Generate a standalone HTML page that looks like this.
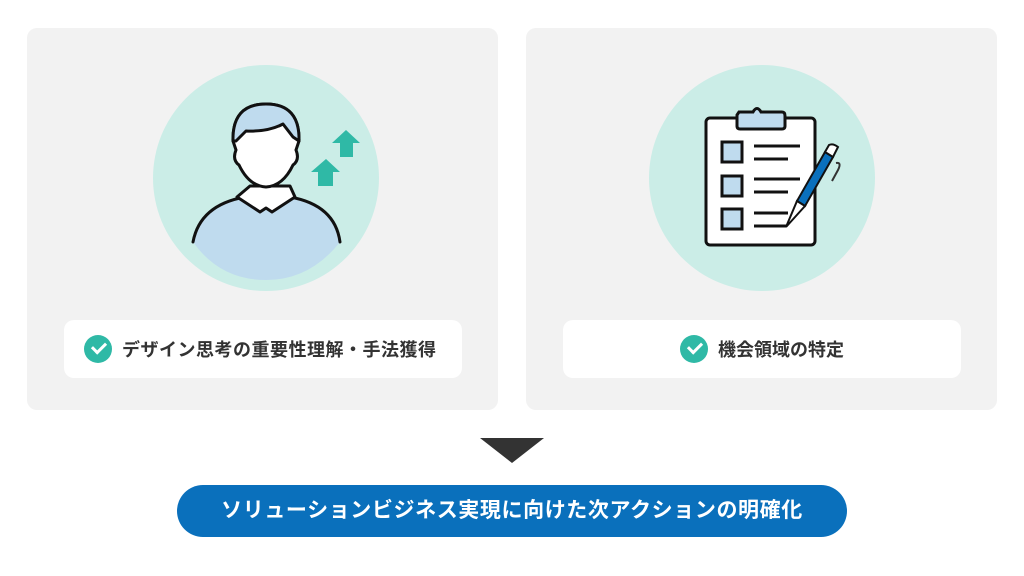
<!DOCTYPE html>
<html><head><meta charset="utf-8"><style>
body{margin:0;width:1024px;height:576px;background:#fff;position:relative;overflow:hidden;font-family:"Liberation Sans","Noto Sans CJK JP",sans-serif}
.panel{position:absolute;top:28px;width:471px;height:382px;background:#f2f2f2;border-radius:10px}
.circ{position:absolute;top:65px;width:226px;height:226px;border-radius:50%;background:#cbede7}
.lab{position:absolute;top:320px;width:398px;height:58px;background:#fff;border-radius:10px;display:flex;align-items:center;font-weight:bold;font-size:18px;color:#333}
.chk{width:28px;height:28px;border-radius:50%;background:#2fb9a6;margin-right:10px;position:relative;flex:none}
.chk:after{content:"";position:absolute;left:8px;top:7px;width:11px;height:6px;border-left:3px solid #fff;border-bottom:3px solid #fff;transform:rotate(-45deg)}
</style></head><body>
<div class="panel" style="left:27px"></div>
<div class="panel" style="left:526px"></div>
<div class="circ" style="left:153px"></div>
<div class="circ" style="left:649px"></div>
<svg style="position:absolute;left:0;top:0" width="1024" height="576">
<defs><clipPath id="c1"><circle cx="266" cy="178" r="113"/></clipPath></defs>
<g clip-path="url(#c1)">
<path d="M193 242 Q200 205 245 197 L290 197 Q335 205 340 242 Q310 280 266 280 Q220 280 193 242Z" fill="#bfdbee"/>
</g>
<path d="M193 242 Q200 205 245 197 M290 197 Q335 205 340 242" fill="none" stroke="#111" stroke-width="3" stroke-linecap="round"/>
<path d="M250 186 L290 186 L295 197 L272 212 L266 208 L260 212 L237 197Z" fill="#fff" stroke="#111" stroke-width="3" stroke-linejoin="round"/>
<path d="M233 141 Q232 104 266 104 Q300 104 299 141 L296 150 Q300 160 293 165 Q283 186 266 187 Q249 186 239 165 Q232 160 236 150Z" fill="#fff" stroke="#111" stroke-width="3"/>
<path d="M233 141 Q232 104 266 104 Q300 104 299 141 L293 137 L283 124 Q268 132 246 131 L236 141Z" fill="#bfdbee" stroke="#111" stroke-width="3" stroke-linejoin="round"/>
<path d="M346 130 L360 143 L353 143 L353 157 L340 157 L340 143 L332 143Z" fill="#2fb9a6"/>
<path d="M326 159 L340 172 L333 172 L333 186 L318 186 L318 172 L311 172Z" fill="#2fb9a6"/>
<rect x="706" y="118" width="109" height="127" rx="4" fill="#fff" stroke="#111" stroke-width="3"/>
<path d="M739 112 L753 112 Q757 105 761 112 L782 112 Q785 112 785 116 L785 126 Q785 129 782 129 L740 129 Q737 129 737 126 L737 115Z" fill="#bfdbee" stroke="#111" stroke-width="3"/>
<g fill="#bfdbee" stroke="#111" stroke-width="3">
<rect x="722" y="142" width="20" height="20"/><rect x="722" y="176" width="20" height="20"/><rect x="722" y="209" width="20" height="20"/></g>
<g stroke="#111" stroke-width="3"><path d="M754 146H800M754 159H788M754 179H800M754 192H788M754 213H788M754 226H786"/></g>
<path d="M833 157 L805 206 L797 201 L825 152Z" fill="#0a70bc" stroke="#111" stroke-width="2"/>
<path d="M825 152 L829 145 Q833 143 838 147 L833 157Z" fill="#fff" stroke="#111" stroke-width="2"/>
<path d="M836 163 Q842 162 838 170 L832 181" fill="none" stroke="#333" stroke-width="2"/>
<path d="M797 201 L805 206 L786 227Z" fill="#fff" stroke="#111" stroke-width="2"/>
<path d="M480 438 L544 438 L512 463Z" fill="#333"/>
<rect x="177" y="485" width="670" height="52" rx="26" fill="#0a70bc"/>
</svg>
<div class="lab" style="left:64px;padding-left:20px;box-sizing:border-box;letter-spacing:0.5px"><span class="chk"></span>デザイン思考の重要性理解・手法獲得</div>
<div class="lab" style="left:563px;justify-content:center"><span class="chk"></span>機会領域の特定</div>
<div style="position:absolute;left:177px;top:485px;width:670px;height:52px;line-height:52px;text-align:center;color:#fff;font-weight:bold;font-size:21px;letter-spacing:0.6px">ソリューションビジネス実現に向けた次アクションの明確化</div>
</body></html>
